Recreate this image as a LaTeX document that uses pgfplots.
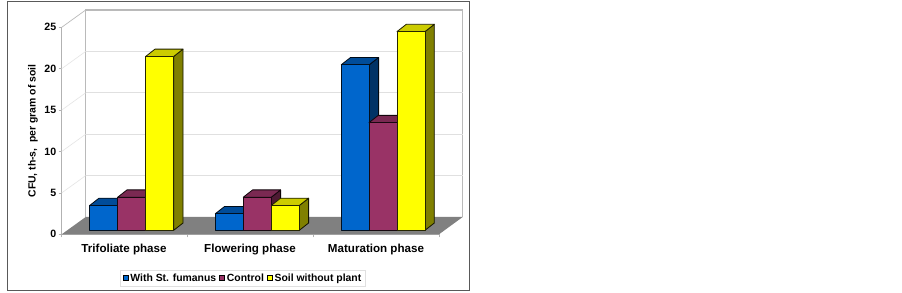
\documentclass[border=0pt]{standalone}
\usepackage{pgfplots}
\pgfplotsset{compat=1.18}
\usepackage{fontspec}
\setmainfont{Liberation Sans}
\definecolor{gA}{HTML}{0066CC}\definecolor{gAt}{HTML}{004C99}\definecolor{gAs}{HTML}{003366}
\definecolor{gB}{HTML}{993366}\definecolor{gBt}{HTML}{7A2952}\definecolor{gBs}{HTML}{4D1A33}
\definecolor{gC}{HTML}{FFFF00}\definecolor{gCt}{HTML}{CCCC00}\definecolor{gCs}{HTML}{808000}
% one 3-D bar: #1 left x (px), #2 value, #3 front, #4 top, #5 side
\newcommand{\bart}[5]{%
  \pgfmathsetmacro\xr{#1+28}\pgfmathsetmacro\xa{#1+9.3}\pgfmathsetmacro\xb{#1+37.3}%
  \pgfmathsetmacro\vt{#2+0.88}\pgfmathsetmacro\vb{0.88}%
  \addplot[forget plot,fill=#5,draw=black!85!#5,line width=0.8pt,line join=round,yshift=4pt] coordinates {(\xr,0)(\xb,\vb)(\xb,\vt)(\xr,#2)} --cycle;
  \addplot[forget plot,fill=#4,draw=black!85!#4,line width=0.8pt,line join=round,yshift=4pt] coordinates {(#1,#2)(\xa,\vt)(\xb,\vt)(\xr,#2)} --cycle;
  \addplot[forget plot,fill=#3,draw=black!85!#3,line width=0.8pt,line join=round,yshift=4pt] coordinates {(#1,0)(#1,#2)(\xr,#2)(\xr,0)} --cycle;
}
\begin{document}
\begin{tikzpicture}[x=1pt,y=1pt]
\useasboundingbox (-61.7,-57.7) rectangle (840.3,234.3);
\fill[white] (-61.7,-57.7) rectangle (840.3,234.3);
\draw[color=black!65,line width=1.1pt] (-54.5,-56) rectangle (407.5,232.7);
\begin{axis}[
  at={(0,0)},anchor=south west,
  scale only axis,width=377.3pt,height=207pt,
  xmin=61.7,xmax=439,ymin=0,ymax=25,
  axis x line*=bottom,axis y line*=left,
  axis line style={color=black!30,line width=0.9pt,-},
  clip=false,
  ytick={0,5,10,15,20,25},
  xtick={124,250,376},
  xticklabels={Trifoliate phase,Flowering phase,Maturation phase},
  minor xtick={61.7,187.5,313.3,439},
  tick align=outside,
  major tick length=3pt,minor tick length=3pt,
  xtick style={draw=none},
  minor x tick style={draw,color=black!30,line width=0.7pt},
  ytick style={color=black!30,line width=0.7pt},
  /pgf/number format/assume math mode=true,
  x tick label style={font=\fontsize{11.6}{13}\selectfont\bfseries,yshift=-3.5pt},
  y tick label style={font=\fontsize{10.6}{12}\selectfont\bfseries,xshift=1pt},
  ylabel={\fontsize{10.4}{12}\selectfont\bfseries CFU, th-s,\ \ per gram of soil},
  every axis y label/.style={at={(axis cs:33,12.47)},rotate=90,anchor=center},
  legend cell align=left,
  legend columns=3,
  legend style={at={(axis cs:243,-5.28)},anchor=center,draw=black!12,line width=0.8pt,fill=white,
    font=\fontsize{10.4}{12}\selectfont\bfseries,inner xsep=2pt,inner ysep=1.5pt,
    /tikz/every even column/.append style={column sep=1pt}},
  legend image code/.code={\draw[#1,draw=black,line width=0.7pt] (1pt,-2.5pt) rectangle (6pt,2.5pt);},
]
\addlegendimage{fill=gA}\addlegendentry{With St. fumanus}
\addlegendimage{fill=gB}\addlegendentry{Control}
\addlegendimage{fill=gC}\addlegendentry{Soil without plant}
% walls
\draw[color=black!27,line width=1.2pt,fill=white] (axis cs:85.7,2.09) -- (axis cs:85.7,27.09) -- (axis cs:462.7,27.09) -- (axis cs:462.7,2.09);
\draw[color=black!27,line width=0.7pt] (axis cs:61.7,25) -- (axis cs:85.7,27.09);
% grid on back and side wall
\addplot[forget plot,color=black!12,line width=1.3pt] coordinates {(85.7,7.09)(462.7,7.09)};
\addplot[forget plot,color=black!12,line width=1.3pt] coordinates {(85.7,12.09)(462.7,12.09)};
\addplot[forget plot,color=black!12,line width=1.3pt] coordinates {(85.7,17.09)(462.7,17.09)};
\addplot[forget plot,color=black!12,line width=1.3pt] coordinates {(85.7,22.09)(462.7,22.09)};
\addplot[forget plot,color=black!10,line width=0.6pt] coordinates {(61.7,5)(85.7,7.09)};
\addplot[forget plot,color=black!10,line width=0.6pt] coordinates {(61.7,10)(85.7,12.09)};
\addplot[forget plot,color=black!10,line width=0.6pt] coordinates {(61.7,15)(85.7,17.09)};
\addplot[forget plot,color=black!10,line width=0.6pt] coordinates {(61.7,20)(85.7,22.09)};
% floor
\addplot[forget plot,fill=black!50,draw=none] coordinates {(61.7,0)(439,0)(462.7,2.09)(85.7,2.09)} --cycle;
% bars
\bart{89.7}{3}{gA}{gAt}{gAs}
\bart{117.7}{4}{gB}{gBt}{gBs}
\bart{145.7}{21}{gC}{gCt}{gCs}
\bart{215.3}{2}{gA}{gAt}{gAs}
\bart{243.3}{4}{gB}{gBt}{gBs}
\bart{271.3}{3}{gC}{gCt}{gCs}
\bart{341.3}{20}{gA}{gAt}{gAs}
\bart{369}{13}{gB}{gBt}{gBs}
\bart{397}{24}{gC}{gCt}{gCs}
\end{axis}
\end{tikzpicture}
\end{document}
